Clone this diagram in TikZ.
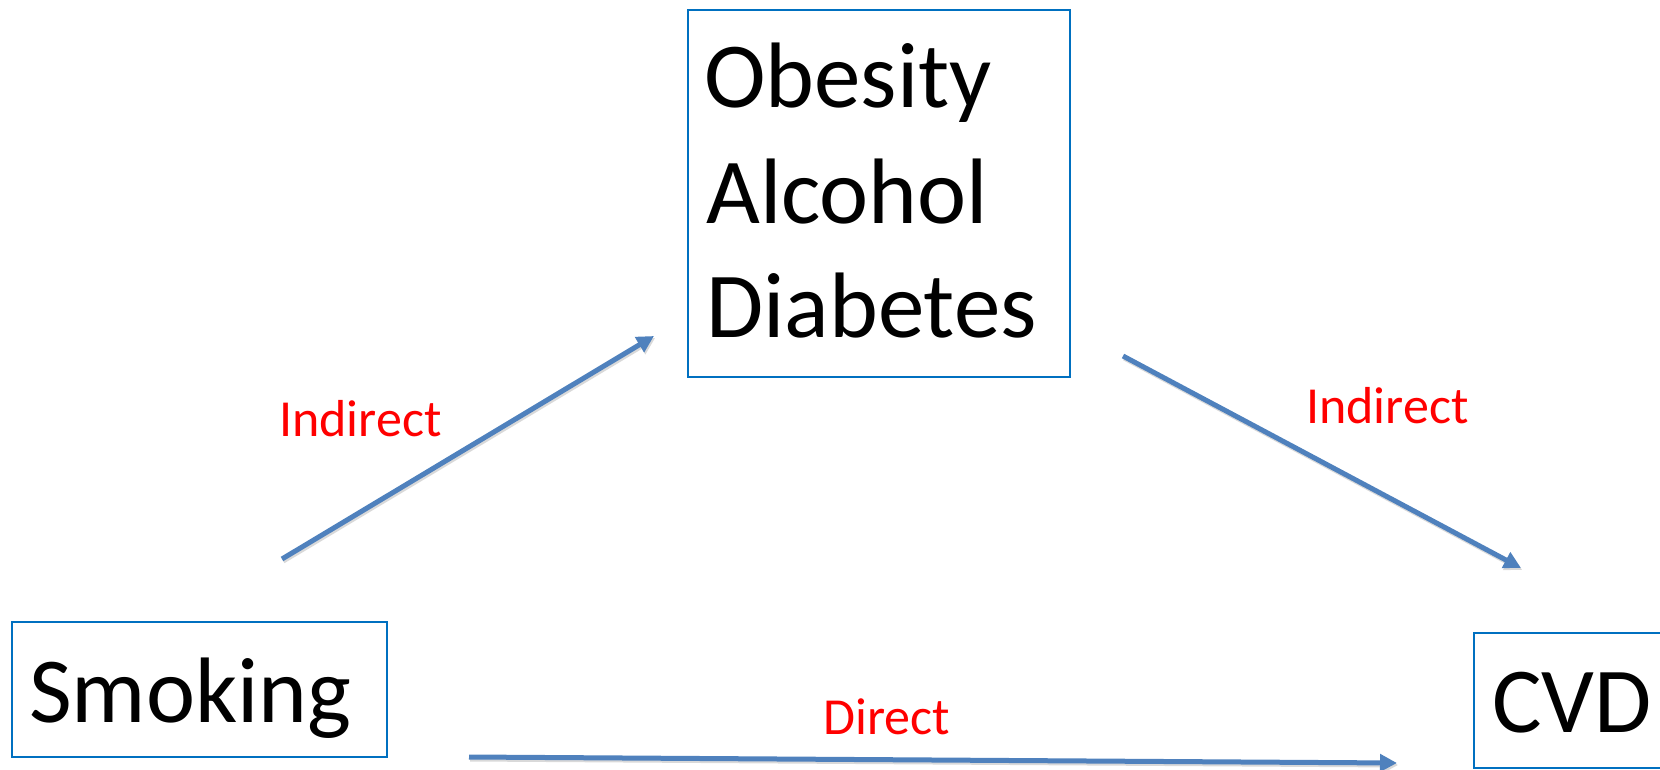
\documentclass[tikz,border=0pt]{standalone}
\usepackage{fontspec}
\setmainfont{Carlito}
\usetikzlibrary{arrows.meta}
\definecolor{boxblue}{HTML}{0070C0}
\definecolor{arrowblue}{HTML}{4F81BD}
\tikzset{
  box/.style={draw=boxblue, line width=1.6bp, inner sep=0pt, anchor=north west},
  bigtext/.style={inner sep=0pt, anchor=base west, font=\fontsize{93bp}{112bp}\selectfont},
  lbl/.style={inner sep=0pt, anchor=base west, text=red, font=\fontsize{52bp}{62bp}\selectfont},
  arr/.style={draw=arrowblue, line width=5bp, -{Triangle[length=17bp,width=17bp]}},
  shadowarr/.style={draw=black!15, line width=5bp, -{Triangle[length=17bp,width=17bp]}, transform canvas={shift={(1.2bp,-2bp)}}}
}
\begin{document}
\begin{tikzpicture}[x=1bp,y=-1bp]
\useasboundingbox (0,0) rectangle (1660,770);
% boxes
\node[box, minimum width=382bp, minimum height=367bp] (mid) at (687,9) {};
\node[box, minimum width=375bp, minimum height=135bp] (smk) at (11,621) {};
\node[box, minimum width=200bp, minimum height=135bp] (cvd) at (1473,632) {};
% texts
\node[bigtext] (t1) at (704,107) {Obesity};
\node[bigtext] (t2) at (706,223) {Alcohol};
\node[bigtext] (t3) at (706,337) {Diabetes};
\node[bigtext] (tsmk) at (29,722) {Smoking};
\node[bigtext] (tcvd) at (1492,732) {CVD};
% labels
\node[lbl] (l1) at (279,436) {Indirect};
\node[lbl] (l2) at (1306,423) {Indirect};
\node[lbl] (l3) at (823,734) {Direct};
% arrow end points
\coordinate (a1s) at (282,559);
\coordinate (a1e) at (654,336);
\coordinate (a2s) at (1123,356);
\coordinate (a2e) at (1521,568);
\coordinate (a3s) at (469,757);
\coordinate (a3e) at (1397,763);
% shadows
\draw[shadowarr] (a1s) -- (a1e);
\draw[shadowarr] (a2s) -- (a2e);
\draw[shadowarr] (a3s) -- (a3e);
% arrows
\draw[arr] (a1s) -- (a1e);
\draw[arr] (a2s) -- (a2e);
\draw[arr] (a3s) -- (a3e);
\end{tikzpicture}
\end{document}
